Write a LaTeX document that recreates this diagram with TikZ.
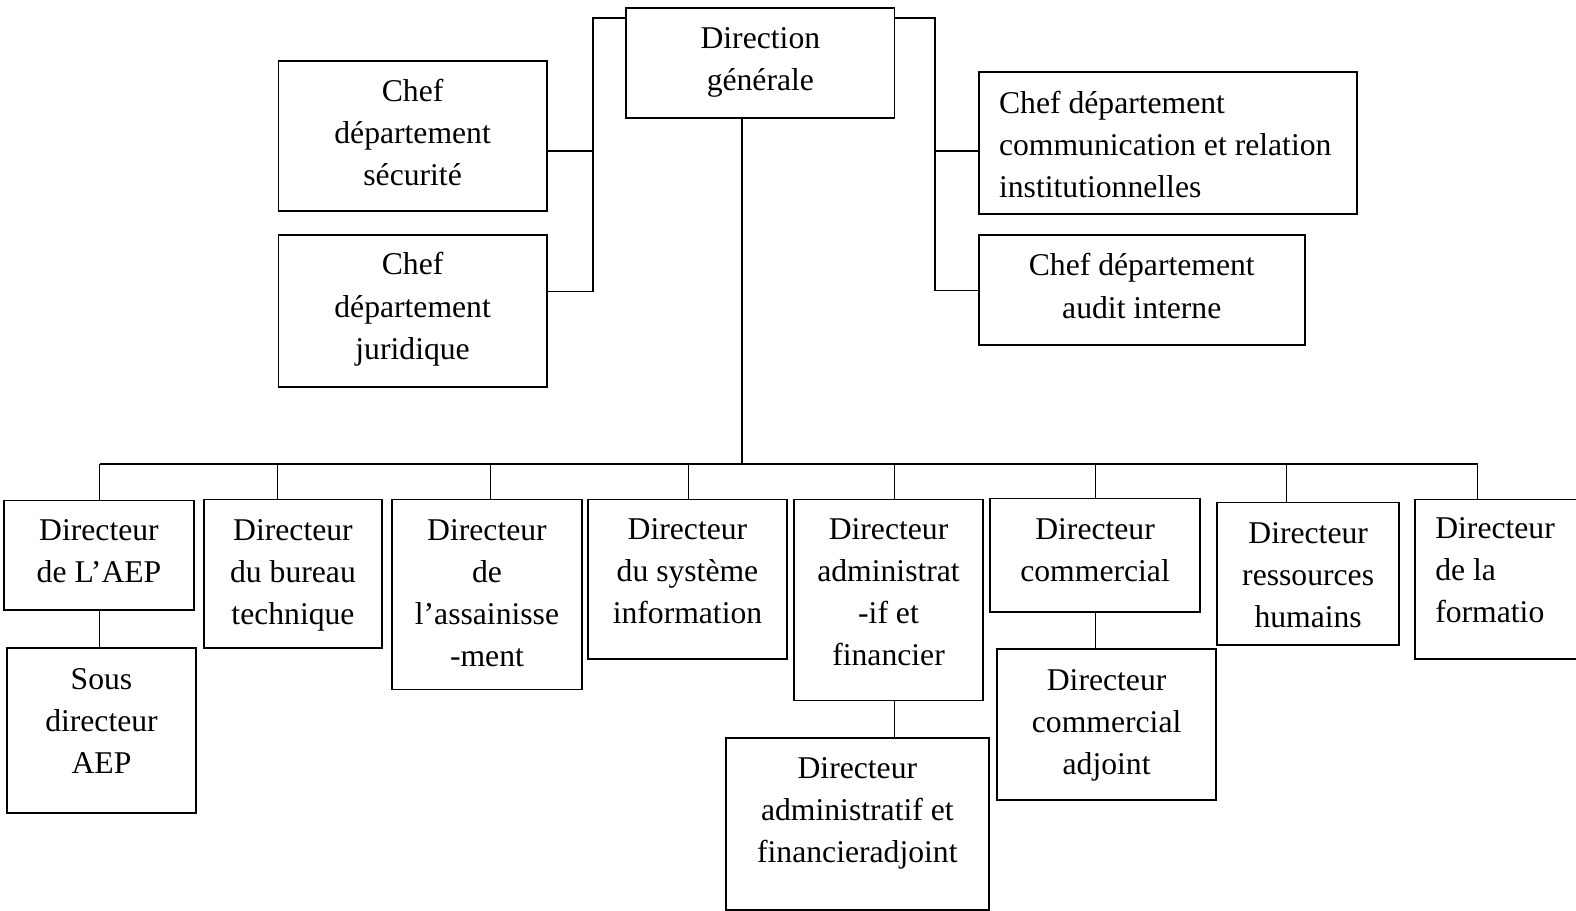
\documentclass[tikz,border=0pt]{standalone}
\usepackage{fontspec}
\setmainfont{Liberation Serif}
\newcommand{\boxtxt}[4]{\parbox[c][#2pt][t]{#1pt}{\vspace*{\dimexpr#3pt+3.5pt\relax}\centering\strut #4}}
\newcommand{\boxtxtl}[4]{\parbox[c][#2pt][t]{#1pt}{\vspace*{\dimexpr#3pt+3.5pt\relax}\raggedright\leftskip=20pt\strut #4}}
\begin{document}
\begin{tikzpicture}[x=1pt,y=-1pt,
  font=\fontsize{31.5}{42}\selectfont,
  orgbox/.style={draw=black,line width=1.8pt,inner sep=0pt,outer sep=0pt,anchor=north west},
  conn/.style={draw=black,line width=1.8pt}]
\useasboundingbox (0,0) rectangle (1568,906);
% top level
\node[orgbox] (dg)  at (623,8)   {\boxtxt{267}{109}{7.6}{Direction\\générale}};
\node[orgbox] (sec) at (277,61)  {\boxtxt{267}{149}{6.6}{Chef\\département\\sécurité}};
\node[orgbox] (jur) at (277,234) {\boxtxt{267}{151}{6.6}{Chef\\département\\juridique}};
\node[orgbox] (com) at (974,72)  {\boxtxtl{376}{141}{7.6}{Chef département\\communication et relation\\institutionnelles}};
\node[orgbox] (aud) at (974,234) {\boxtxt{324}{109}{7.6}{Chef département\\audit interne}};
% directors
\node[orgbox] (d1) at (4,498)    {\boxtxt{189}{109}{6.6}{Directeur\\de L’AEP}};
\node[orgbox] (s1) at (7,645)    {\boxtxt{188}{164}{7.6}{Sous\\directeur\\AEP}};
\node[orgbox] (d2) at (203,497)  {\boxtxt{177}{148}{7.6}{Directeur\\du bureau\\technique}};
\node[orgbox] (d3) at (390,497)  {\boxtxt{189}{189}{7.6}{Directeur\\de\\l’assainisse\\-ment}};
\node[orgbox] (d4) at (585,497)  {\boxtxt{198}{159}{6.6}{Directeur\\du système\\information}};
\node[orgbox] (d5) at (790,497)  {\boxtxt{188}{200}{6.6}{Directeur\\administrat\\-if et\\financier}};
\node[orgbox] (s5) at (722,734)  {\boxtxt{262}{171}{7.6}{Directeur\\administratif et\\financieradjoint}};
\node[orgbox] (d6) at (985,496)  {\boxtxt{209}{113}{7.6}{Directeur\\commercial}};
\node[orgbox] (s6) at (992,646)  {\boxtxt{218}{150}{7.6}{Directeur\\commercial\\adjoint}};
\node[orgbox] (d7) at (1211,500) {\boxtxt{181}{142}{7.6}{Directeur\\ressources\\humains}};
\node[orgbox] (d8) at (1408,497) {\boxtxtl{166}{159}{5.6}{Directeur\\de la\\formatio}};
% left bracket
\coordinate (lt) at (590,18);
\coordinate (ls) at (590,150);
\coordinate (lj) at (590,290);
\draw[conn] (lt -| dg.west) -- (lt) -- (lj) -- (lj -| jur.east);
\draw[conn] (ls) -- (ls -| sec.east);
% right bracket
\coordinate (rt) at (930,18);
\coordinate (rc) at (930,150);
\coordinate (ra) at (930,289);
\draw[conn] (rt -| dg.east) -- (rt) -- (ra) -- (ra -| aud.west);
\draw[conn] (rc) -- (rc -| com.west);
% trunk and bus
\coordinate (bus) at (738,462);
\draw[conn] (bus |- dg.south) -- (bus);
\coordinate (b1) at (99,462);
\coordinate (b2) at (276,462);
\coordinate (b3) at (488,462);
\coordinate (b4) at (685,462);
\coordinate (b5) at (890,462);
\coordinate (b6) at (1090,462);
\coordinate (b7) at (1280,462);
\coordinate (b8) at (1470,462);
\draw[conn] (b1) -- (b8);
\draw[conn] (b1) -- (b1 |- d1.north);
\draw[conn] (b2) -- (b2 |- d2.north);
\draw[conn] (b3) -- (b3 |- d3.north);
\draw[conn] (b4) -- (b4 |- d4.north);
\draw[conn] (b5) -- (b5 |- d5.north);
\draw[conn] (b6) -- (b6 |- d6.north);
\draw[conn] (b7) -- (b7 |- d7.north);
\draw[conn] (b8) -- (b8 |- d8.north);
% sub connectors
\draw[conn] (b1 |- d1.south) -- (b1 |- s1.north);
\draw[conn] (b5 |- d5.south) -- (b5 |- s5.north);
\draw[conn] (b6 |- d6.south) -- (b6 |- s6.north);
\end{tikzpicture}
\end{document}
